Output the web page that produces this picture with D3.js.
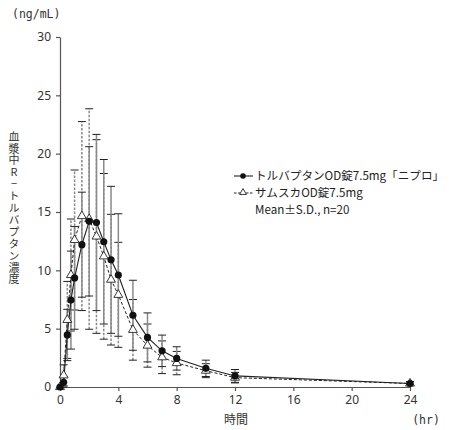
<!DOCTYPE html>
<html><head><meta charset="utf-8">
<script src="https://cdn.jsdelivr.net/npm/d3@7"></script>
<style>
body{margin:0;background:#fff;}
svg{display:block;font-family:"Noto Sans CJK JP","Noto Sans",sans-serif;}
</style></head>
<body><svg id="c" width="450" height="430"></svg>
<script>
const times = [0,0.25,0.5,0.75,1,1.5,2,2.5,3,3.5,4,5,6,7,8,10,12,24];
const niproMean = [0,0.4,4.46,7.45,9.35,12.2,14.2,14.1,12.45,10.9,9.6,6.15,4.25,3.1,2.45,1.6,0.95,0.3];
const niproSD   = [0,0.5,2.2,4.2,4.4,4.5,6.4,7.55,7.05,6.3,5.25,3.0,2.1,1.35,1.0,0.7,0.55,0.15];
const samscaMean = [0,1.0,5.75,9.6,12.6,14.65,14.4,12.9,11.2,9.2,7.9,4.9,3.55,2.55,2.05,1.4,0.8,0.3];
const samscaSD   = [0,0.9,3.3,4.8,6.0,8.1,9.45,8.3,7.1,5.6,4.5,2.6,1.85,1.4,1.0,0.6,0.45,0.15];
const xTicks = [0,4,8,12,16,20,24];
const yTicks = [0,5,10,15,20,25,30];
const legendLabels = ["トルバプタンOD錠7.5mg「ニプロ」","サムスカOD錠7.5mg","Mean±S.D., n=20"];
const yLabel = "血漿中R−トルバプタン濃度";

const svg = d3.select("#c");
const x = d3.scaleLinear().domain([0,24]).range([60,410]);
const y = d3.scaleLinear().domain([0,30]).range([387,37]);
const axisColor = "#555", barColor = "#8a8a8a", ink = "#222";

// axes
const xa = svg.append("g").attr("transform","translate(0,387)")
  .call(d3.axisBottom(x).tickValues(xTicks).tickSize(4).tickSizeOuter(0).tickPadding(4));
const ya = svg.append("g").attr("transform","translate(60,0)")
  .call(d3.axisLeft(y).tickValues(yTicks).tickSize(4).tickSizeOuter(0).tickPadding(5));
[xa,ya].forEach(a=>{
  a.selectAll("path,line").attr("stroke",axisColor).attr("stroke-width",1.2);
  a.selectAll("text").attr("fill","#333").style("font-size","12px").style("font-family","'Noto Sans','Noto Sans CJK JP',sans-serif");
});

svg.append("text").attr("x",12).attr("y",18).attr("fill","#333").style("font-size","11.5px")
  .style("font-family","'DejaVu Sans Mono',monospace").text("(ng/mL)");
svg.append("text").attr("x",236).attr("y",424).attr("text-anchor","middle").attr("fill","#333").style("font-size","12px").text("時間");
svg.append("text").attr("x",426).attr("y",424).attr("text-anchor","middle").attr("fill","#333").style("font-size","11.5px")
  .style("font-family","'DejaVu Sans Mono',monospace").text("(hr)");
svg.append("text").attr("x",14).attr("y",131).attr("fill","#333")
  .style("font-size","11px").style("writing-mode","vertical-rl").style("text-orientation","upright")
  .style("letter-spacing","0.9px").text(yLabel);

function series(mean, sd, dashed){
  const pts = times.map((t,i)=>({t, m:mean[i], s:sd[i]}));
  const g = svg.append("g");
  const eb = g.append("g").attr("stroke",barColor).attr("stroke-width",1.5).attr("fill","none");
  pts.filter(p=>p.s>0).forEach(p=>{
    const cx = x(p.t), lo = y(Math.max(0,p.m-p.s)), hi = y(p.m+p.s);
    eb.append("line").attr("x1",cx).attr("x2",cx).attr("y1",lo).attr("y2",hi)
      .attr("stroke-dasharray",dashed?"2.5,1.5":null);
    eb.append("line").attr("x1",cx-4).attr("x2",cx+4).attr("y1",hi).attr("y2",hi).attr("stroke",ink).attr("stroke-width",1);
    eb.append("line").attr("x1",cx-4).attr("x2",cx+4).attr("y1",lo).attr("y2",lo).attr("stroke",ink).attr("stroke-width",1);
  });
  return {g, pts};
}
const s2 = series(samscaMean, samscaSD, true);
const s1 = series(niproMean, niproSD, false);

const line = d3.line().x(d=>x(d.t)).y(d=>y(d.m));
svg.append("path").datum(s2.pts).attr("d",line).attr("fill","none").attr("stroke",ink).attr("stroke-width",1).attr("stroke-dasharray","3,2");
svg.append("path").datum(s1.pts).attr("d",line).attr("fill","none").attr("stroke",ink).attr("stroke-width",1.1);

const tri = d3.symbol().type(d3.symbolTriangle).size(34);
svg.append("g").selectAll("path").data(s2.pts).join("path")
  .attr("d",tri).attr("transform",d=>`translate(${x(d.t)},${y(d.m)})`)
  .attr("fill","#fff").attr("stroke",ink).attr("stroke-width",0.9);
svg.append("g").selectAll("circle").data(s1.pts).join("circle")
  .attr("cx",d=>x(d.t)).attr("cy",d=>y(d.m)).attr("r",3.6).attr("fill","#111");

// legend
const lg = svg.append("g");
lg.append("line").attr("x1",234).attr("x2",253).attr("y1",176).attr("y2",176).attr("stroke",ink).attr("stroke-width",1.1);
lg.append("circle").attr("cx",243).attr("cy",176).attr("r",2.8).attr("fill","#111");
lg.append("line").attr("x1",234).attr("x2",253).attr("y1",193).attr("y2",193).attr("stroke",ink).attr("stroke-width",1).attr("stroke-dasharray","2.5,1.5");
lg.append("path").attr("d",d3.symbol().type(d3.symbolTriangle).size(20)).attr("transform","translate(243,192.5)")
  .attr("fill","#fff").attr("stroke",ink).attr("stroke-width",0.9);
[[255,180],[255,197],[255,214]].forEach((p,i)=>{
  lg.append("text").attr("x",p[0]).attr("y",p[1]).attr("fill","#222").style("font-size","11.6px")
    .text(legendLabels[i]);
});
</script></body></html>
